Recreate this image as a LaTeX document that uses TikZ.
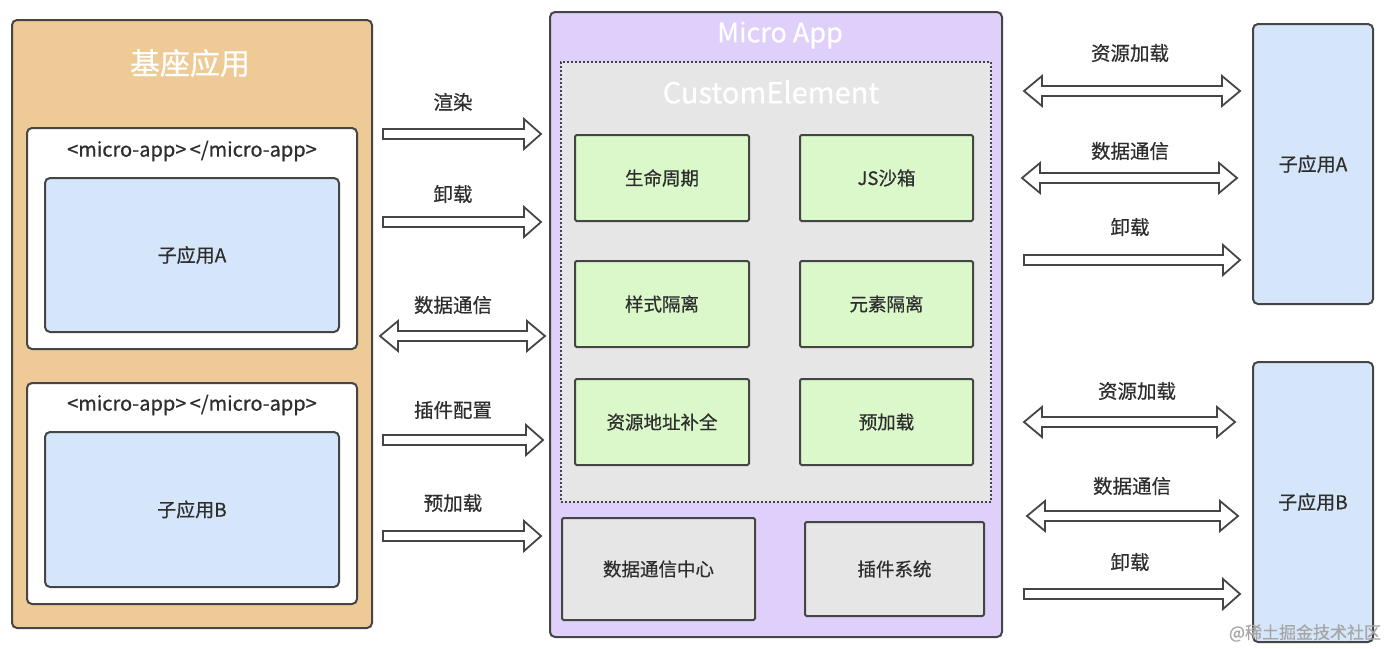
\documentclass[tikz,border=0pt]{standalone}
\usepackage{fontspec}
\setmainfont{Noto Sans CJK SC}[FakeBold=0.6]
\definecolor{edge}{HTML}{454545}
\definecolor{txt}{HTML}{2E2E2E}
\definecolor{orangefill}{HTML}{EECA96}
\definecolor{purplefill}{HTML}{DED0FA}
\definecolor{grayfill}{HTML}{E6E6E6}
\definecolor{greenfill}{HTML}{DAF8CA}
\definecolor{bluefill}{HTML}{D6E6FA}
\newcommand\ArrRight[3]{\draw[harrow] (#1,#3-5) -- (#2-17,#3-5) -- (#2-17,#3-15) -- (#2,#3) -- (#2-17,#3+15) -- (#2-17,#3+5) -- (#1,#3+5) -- cycle;}
\newcommand\ArrBoth[3]{\draw[harrow] (#1,#3) -- (#1+18,#3-15) -- (#1+18,#3-5) -- (#2-18,#3-5) -- (#2-18,#3-15) -- (#2,#3) -- (#2-18,#3+15) -- (#2-18,#3+5) -- (#1+18,#3+5) -- (#1+18,#3+15) -- cycle;}
\tikzset{
  box/.style={draw=edge, line width=2pt, rounded corners=5pt, inner sep=0pt, text=txt, font=\fontsize{19}{22}\selectfont},
  sqbox/.style={draw=edge, line width=2pt, rounded corners=1.5pt, inner sep=0pt, text=txt, font=\fontsize{18.5}{21}\selectfont},
  lbl/.style={text=txt, font=\fontsize{19.5}{22}\selectfont, inner sep=0pt},
  harrow/.style={draw=edge, fill=white, line width=1.8pt},
}
\begin{document}
\begin{tikzpicture}[x=1pt,y=-1pt]
\useasboundingbox (0,0) rectangle (1400,648);
% left base app
\node[box, fill=orangefill, minimum width=360pt, minimum height=608pt] (base) at (192,324) {};
\node[text=white, font=\fontsize{30}{33}\selectfont] (basettl) at (190,63) {基座应用};
\node[box, fill=white, minimum width=330pt, minimum height=221pt] (w1) at (192,238.5) {};
\node[lbl, font=\fontsize{20}{22}\selectfont] (w1t) at (192,151) {<micro-app>\,</micro-app>};
\node[box, fill=bluefill, minimum width=294pt, minimum height=154pt] (b1) at (192,255) {子应用A};
\node[box, fill=white, minimum width=330pt, minimum height=221pt] (w2) at (192,493.5) {};
\node[lbl, font=\fontsize{20}{22}\selectfont] (w2t) at (192,405) {<micro-app>\,</micro-app>};
\node[box, fill=bluefill, minimum width=294pt, minimum height=155pt] (b2) at (192,509.5) {子应用B};
% middle micro app
\node[box, fill=purplefill, minimum width=452pt, minimum height=625pt] (mapp) at (776,324.5) {};
\node[text=white, font=\fontsize{27}{30}\selectfont] (mappt) at (780,35) {Micro App};
\node[draw=edge, line width=2pt, dotted, fill=grayfill, minimum width=430pt, minimum height=440pt, inner sep=0pt] (ce) at (776,282) {};
\node[text=white, font=\fontsize{29}{32}\selectfont] (cet) at (771,92) {CustomElement};
\node[sqbox, fill=greenfill, minimum width=174pt, minimum height=86pt] (g1) at (662,178) {生命周期};
\node[sqbox, fill=greenfill, minimum width=173pt, minimum height=86pt] (g2) at (886.5,178) {JS沙箱};
\node[sqbox, fill=greenfill, minimum width=174pt, minimum height=86pt] (g3) at (662,304) {样式隔离};
\node[sqbox, fill=greenfill, minimum width=173pt, minimum height=86pt] (g4) at (886.5,304) {元素隔离};
\node[sqbox, fill=greenfill, minimum width=174pt, minimum height=86pt] (g5) at (662,422) {资源地址补全};
\node[sqbox, fill=greenfill, minimum width=173pt, minimum height=86pt] (g6) at (886.5,422) {预加载};
\node[sqbox, fill=grayfill, minimum width=193pt, minimum height=102pt] (c1) at (658.5,569) {数据通信中心};
\node[sqbox, fill=grayfill, minimum width=179pt, minimum height=94pt] (c2) at (894.5,569) {插件系统};
% right sub apps
\node[box, fill=bluefill, minimum width=120pt, minimum height=280pt] (ra) at (1313,164) {子应用A};
\node[box, fill=bluefill, minimum width=120pt, minimum height=280pt] (rb) at (1313,502) {子应用B};
% left arrows
\node[lbl] (l1) at (453,102) {渲染};
\ArrRight{383}{541}{134}
\node[lbl] (l2) at (453,194) {卸载};
\ArrRight{383}{541}{222}
\node[lbl] (l3) at (453,305) {数据通信};
\ArrBoth{380}{545}{336}
\node[lbl] (l4) at (453,410) {插件配置};
\ArrRight{383}{543}{440}
\node[lbl] (l5) at (453,503) {预加载};
\ArrRight{383}{541}{536}
% right arrows
\node[lbl] (r1) at (1130,53) {资源加载};
\ArrBoth{1024}{1240}{91}
\node[lbl] (r2) at (1130,151) {数据通信};
\ArrBoth{1022}{1237}{178}
\node[lbl] (r3) at (1130,227) {卸载};
\ArrRight{1024}{1240}{260}
\node[lbl] (r4) at (1137,391) {资源加载};
\ArrBoth{1024}{1235}{422}
\node[lbl] (r5) at (1132,486) {数据通信};
\ArrBoth{1027}{1238}{516}
\node[lbl] (r6) at (1130,562) {卸载};
\ArrRight{1024}{1240}{594}
% watermark
\node[text=black!35, font=\fontsize{17}{20}\selectfont, inner sep=0pt] (wm) at (1305,633) {@稀土掘金技术社区};
\end{tikzpicture}
\end{document}
